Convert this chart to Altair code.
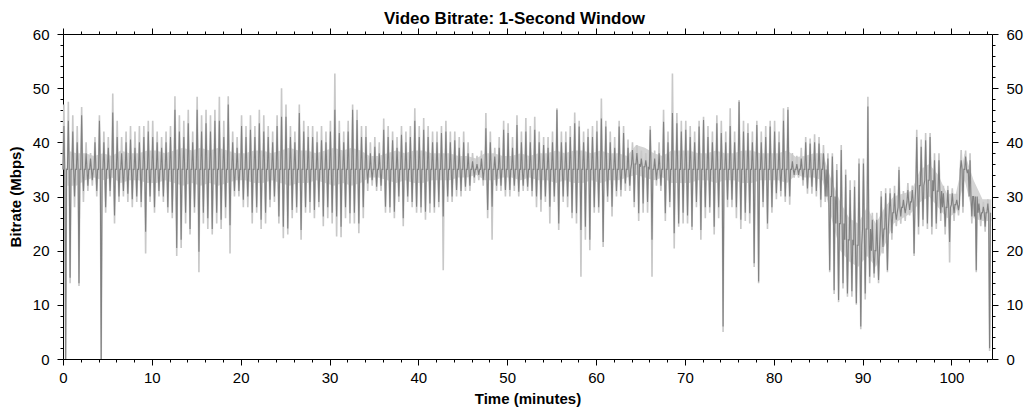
import altair as alt
import pandas as pd

chart_title = "Video Bitrate: 1-Second Window"
x_title = "Time (minutes)"
y_title = "Bitrate (Mbps)"

bin_minutes = 0.5
x_max = 104.57
x_ticks = list(range(0, 105, 2))
y_ticks = list(range(0, 61, 2))

# per half-minute window: local peak / trough of the 1-second bitrate (dark trace)
dark_high = [
    43, 44, 42, 40, 45, 38, 37, 40, 44, 40,
    39, 45.5, 41, 38, 40, 40.5, 39, 40, 41, 42,
    41, 40, 39, 40, 41, 46, 42, 41, 43.5, 40,
    46, 42, 43.5, 42, 44, 44, 41, 47, 40, 39,
    43, 41, 42.3, 41, 43.5, 42, 41, 40, 43, 44.7,
    44.7, 41, 40, 45.4, 42, 41, 41, 40, 40.4, 40,
    42, 46, 41.7, 40, 42, 46, 44.1, 41, 41, 38,
    39.2, 38, 42.3, 41, 40.4, 39, 41.4, 40, 41, 44,
    41, 42.3, 41, 40, 40, 41.7, 42, 40, 40.4, 39,
    40, 38, 36.5, 36, 37, 42.6, 40, 37.4, 39, 42.3,
    41.7, 39, 43.2, 40, 42, 40, 42.3, 40, 39.5, 39,
    40, 46, 40, 40, 41, 43.5, 42.9, 40, 41, 41,
    42, 44.4, 42.9, 40, 39, 42.9, 41.7, 39, 38.6, 38,
    37, 36.7, 42.3, 37, 38, 43.8, 40, 45.4, 43.5, 42,
    42.3, 41, 40, 42.9, 44.1, 41, 40, 43.5, 41.7, 40,
    43, 40, 47.5, 42, 41.7, 40, 43.2, 40, 41, 42.9,
    42, 40, 44, 46, 36.5, 36, 37, 40, 39.8, 40,
    39.8, 38, 37, 37.4, 34.9, 38.6, 34, 31.2, 31.8, 36.1,
    36.1, 46.6, 25.7, 25.7, 30, 30.6, 30.6, 30.6, 34.9, 29.4,
    31.2, 31.2, 41, 39.2, 40.4, 41, 36.7, 36.7, 30.6, 31.2,
    30.6, 29.4, 36.7, 37.4, 36.7, 26.3, 28.7, 28.1, 28.7,
]
dark_low = [
    0, 15, 30, 14, 31, 32, 33, 31, 0, 28,
    31, 26.5, 30, 31, 30.5, 29.5, 30, 29, 23.5, 30,
    28, 31, 30, 28, 27, 20.5, 22, 27, 24, 28,
    19.8, 27, 26, 24, 27, 25.7, 28, 24.7, 31, 31,
    29.4, 30, 27, 28, 25.7, 27, 29.4, 30, 26.3, 24.4,
    24.1, 27.5, 28, 23.8, 28, 29, 27.5, 29, 26.3, 28,
    27, 26.3, 24.4, 28, 26.9, 27, 25, 28, 32.4, 33,
    31.8, 32, 28.1, 28, 27.2, 30, 26, 30, 29, 28.1,
    28, 27.2, 28.7, 28, 29, 26.3, 30, 30, 31.2, 31,
    31.8, 32, 33.5, 34, 33, 27.5, 28.1, 32, 32, 31.2,
    31.2, 32, 30.9, 32, 31.8, 31, 30, 29.4, 30, 28.1,
    30, 25, 30, 30, 27, 26.9, 23.8, 24.4, 22, 28,
    28, 21.6, 30, 28.1, 31, 31.2, 32.4, 32, 29, 26.9,
    28.7, 29, 22, 33, 32, 26.9, 29, 23.2, 25, 27,
    26.5, 24.4, 29, 23.8, 28, 28, 24.4, 28, 6, 29.4,
    29.4, 28, 25.7, 27, 26.9, 17.7, 14.3, 29, 25, 28,
    30.6, 31, 30, 30, 34, 34, 33, 31.5, 31.8, 31,
    29.4, 30, 16.4, 12.7, 10.9, 14, 12.1, 12.5, 10.3, 6,
    12.1, 15.2, 15.8, 14.6, 20.7, 16.4, 23.2, 25.7, 26.3, 26.9,
    27.5, 19.5, 24.4, 25.7, 25, 24.4, 25, 26.9, 24.4, 21.6,
    26.9, 27.5, 28.1, 34.3, 26.3, 16.4, 25.7, 24.4, 2,
]
# light trace (drawn behind): slightly wider excursions
light_high = [
    47, 47.5, 45, 43, 46.5, 40, 38, 41, 45, 42,
    41, 49, 44, 41, 42, 43, 42, 43, 43, 44,
    44, 42, 41, 42, 43, 48.5, 45, 44, 46, 42,
    48.4, 45, 46, 45, 46, 48.4, 44, 48.5, 42, 41,
    45, 43, 45, 43, 46, 45, 43, 42, 45, 50,
    47, 43, 42, 47, 44, 43, 43, 42, 43, 42,
    44, 52.7, 44, 42, 44, 47, 46, 43, 43, 40,
    41, 40, 44.4, 43, 42, 41, 43, 42, 43, 46.3,
    43, 44.5, 43, 42, 42, 43, 44, 42, 42, 41,
    42, 40, 38, 37.5, 38.5, 45.4, 42, 39, 41, 44,
    43.5, 41, 45, 42, 44.5, 43, 44.7, 42, 41, 41,
    42, 46.3, 42, 42, 43, 45.5, 44, 42, 42.5, 43,
    44, 48.1, 44, 42, 41, 44, 43, 40.5, 40, 39.5,
    38.5, 38, 43, 38.5, 40, 46, 42, 52.7, 45.4, 44,
    44, 43, 42, 44, 44.7, 43, 42, 45, 44, 42,
    46.3, 42, 47.8, 44, 43.5, 42, 44, 42, 43, 44,
    44, 42, 46.3, 46.5, 38, 37.5, 39, 41, 40.7, 41.5,
    41, 39.5, 38, 38, 36, 39.5, 35, 33, 33, 37,
    37, 48.4, 27, 27, 31, 31.5, 31.5, 32, 35.5, 31,
    32.5, 32, 42.3, 40.5, 41.7, 41.7, 38, 38, 32, 32,
    31.5, 30.5, 38.6, 38.5, 38, 27.5, 29.5, 29, 29.5,
]
light_low = [
    0, 14, 28, 13.5, 29, 31, 32, 30, 0, 27,
    30, 25, 29, 30, 29, 28, 29, 28, 19.5, 29,
    27, 30, 29, 27, 26, 19, 20.5, 25, 23, 27,
    16, 25, 24, 23, 25, 24, 26, 19.5, 30, 30,
    28, 28, 25, 27, 24, 25, 28, 29, 25, 22.3,
    23, 26, 27, 22, 27, 27, 26, 28, 24.5, 26,
    25, 22.6, 22.5, 26, 25, 25, 23.2, 26, 31, 32,
    31, 31, 27, 27, 26, 29, 24.5, 29, 28, 27,
    27, 25.7, 27, 27, 28, 16.4, 29, 29, 30, 30,
    31, 31, 32.5, 33, 32, 26, 22, 31, 31, 30,
    30, 31, 30, 31, 31, 30, 28, 27.2, 29, 25,
    29, 23.8, 29, 28, 26, 25, 15.2, 22, 20.1, 27,
    27, 20.7, 29, 26.3, 30, 30, 31, 31, 28, 25.5,
    27, 27, 15.2, 32, 31, 25.5, 28, 20.4, 24.4, 25,
    25, 23.8, 28, 22, 26, 27, 23, 26, 5, 28,
    28, 26, 24, 25.5, 25, 17, 14, 28, 24, 27,
    29.5, 30, 29, 28.5, 33.5, 33.5, 32, 30.5, 30.5, 30,
    28, 29, 16, 12, 10.5, 13, 11.5, 11.5, 10, 5.5,
    11, 14, 15, 14, 19.5, 16, 22, 24.5, 25, 25.5,
    26.5, 19, 23, 24.5, 24, 23, 24, 25.5, 23, 17.8,
    25.5, 26.5, 27, 33, 25, 16, 24.5, 23.5, 1.5,
]
# per-minute typical level the trace hovers around
level = [
    35, 35, 35, 35, 35, 35, 35, 35, 35, 35,
    35, 35, 35, 35, 35, 35, 35, 35, 35, 35,
    35, 35, 35, 35, 35, 35, 35, 35, 35, 35,
    35, 35, 35, 35, 35, 35, 35, 35, 35, 35,
    35, 35, 35, 35, 35, 35, 35, 35, 35, 35,
    35, 35, 35, 35, 35, 35, 35, 35, 35, 35,
    35, 35, 35, 35, 36, 35.5, 35, 35, 35, 35,
    35, 35, 35, 35, 35, 35, 35, 35, 35, 35,
    35, 35, 35, 35, 35, 35, 30, 25, 22, 21,
    24, 20, 24, 27, 28, 29, 32, 33, 31, 28,
    28.5, 35, 30, 27, 27,
]
# per-minute light halo band around that level
band_low = [
    32, 32, 33, 33.5, 33, 33.5, 32.5, 33, 33, 32.5,
    32.5, 33, 32.5, 32, 32.5, 32, 32.5, 32, 32.5, 33,
    33, 32.5, 32.5, 33, 32.5, 32, 32.5, 32.5, 33, 32.5,
    32, 32.5, 32, 32.5, 33.5, 33.5, 33, 32.5, 33, 32.5,
    32.5, 33, 33, 33, 33.5, 33.5, 34, 33, 33, 33.5,
    33.5, 33, 33.5, 33, 33, 32.5, 33, 32.5, 32.5, 33,
    32.5, 33, 33, 33.5, 34, 33.5, 33, 33.5, 32.5, 32.5,
    32.5, 33, 33, 32.5, 33, 33, 32.5, 32.5, 33, 33,
    33, 32.5, 34, 33.5, 33.5, 33, 26, 20, 18, 17,
    19, 17, 21, 25, 26, 27, 29, 30, 28, 26,
    27, 33, 26, 25.5, 25.5,
]
band_high = [
    38.5, 38, 38, 37.5, 38, 37.5, 38.5, 38, 38, 38.5,
    38.5, 38, 38.5, 39, 38.5, 39, 38.5, 39, 38.5, 38,
    38, 38.5, 38.5, 38, 38.5, 39, 38.5, 38.5, 38, 38.5,
    39, 38.5, 39, 38.5, 37.5, 37.5, 38, 38.5, 38, 38.5,
    38.5, 38, 38, 38, 37.5, 37.5, 37, 38, 38, 37.5,
    37.5, 38, 37.5, 38, 38, 38.5, 38, 38.5, 38.5, 38,
    38.5, 38, 38, 37.5, 39.5, 39, 38, 37.5, 38.5, 38.5,
    38.5, 38, 38, 38.5, 38, 38, 38.5, 38.5, 38, 38,
    38, 38.5, 37.3, 37.5, 38, 38, 33, 29, 26, 25,
    28, 25, 28, 30, 30.5, 31, 35, 36, 34, 30.5,
    30.5, 38, 33, 29.5, 29.5,
]


def trace(highs, lows):
    rows = []
    for i, (h, l) in enumerate(zip(highs, lows)):
        t0 = i * bin_minutes
        m = level[i // 2]
        rows += [
            {"t": t0, "v": m},
            {"t": t0 + 0.1, "v": h},
            {"t": t0 + 0.2, "v": m},
            {"t": t0 + 0.3, "v": l},
            {"t": t0 + 0.4, "v": m},
        ]
    return pd.DataFrame(rows)


df_dark = trace(dark_high, dark_low)
df_light = trace(light_high, light_low)
df_band = pd.DataFrame({
    "t": [min(k + 0.5, x_max) for k in range(len(band_low))],
    "lo": band_low,
    "hi": band_high,
})

FONT = "Liberation Sans"
major = "datum.value % 10 === 0"


def make_axis(orient, values, show_labels, title_text=None, title_pad=0, label_pad=8):
    kw = dict(
        orient=orient,
        values=values,
        grid=False,
        labels=show_labels,
        labelExpr=f"{major} ? datum.label : ''",
        labelOverlap=False,
        labelFlush=False,
        labelFont=FONT,
        labelFontSize=15,
        labelColor="black",
        labelPadding=label_pad,
        tickColor="black",
        tickWidth=1,
        tickSize={"condition": {"test": major, "value": 6}, "value": 3},
        domainColor="black",
        domainWidth=1,
    )
    if title_text is not None:
        kw.update(title=title_text, titleFont=FONT, titleFontSize=15,
                  titleFontWeight="bold", titleColor="black", titlePadding=title_pad)
    else:
        kw.update(title=None)
    return alt.Axis(**kw)


xscale = alt.Scale(domain=[0, x_max], nice=False, zero=False)
yscale = alt.Scale(domain=[0, 60], nice=False, zero=False)
x_bottom = make_axis("bottom", x_ticks, True, x_title, 6, 5)
y_left = make_axis("left", y_ticks, True, y_title, 9)

band = alt.Chart(df_band).mark_area(color="#d4d4d4", opacity=1).encode(
    x=alt.X("t:Q", scale=xscale, axis=x_bottom),
    y=alt.Y("lo:Q", scale=yscale, axis=y_left),
    y2="hi:Q",
)
light = alt.Chart(df_light).mark_line(color="#c8c8c8", strokeWidth=1.6).encode(
    x=alt.X("t:Q", scale=xscale, axis=x_bottom),
    y=alt.Y("v:Q", scale=yscale, axis=y_left),
)
dark = alt.Chart(df_dark).mark_line(color="#808080", strokeWidth=1.1).encode(
    x=alt.X("t:Q", scale=xscale, axis=make_axis("top", x_ticks, False)),
    y=alt.Y("v:Q", scale=yscale, axis=make_axis("right", y_ticks, True)),
)

chart = (
    alt.layer(alt.layer(band, light), dark)
    .resolve_scale(x="independent", y="independent")
    .properties(
        width=929,
        height=325,
        title=alt.TitleParams(text=chart_title, font=FONT, fontSize=17,
                              fontWeight="bold", color="black", dx=-13, offset=-0.5),
        autosize=alt.AutoSizeParams(type="none"),
        padding={"left": 55, "top": 26, "right": 35, "bottom": 51},
    )
    .configure_view(stroke="transparent")
)

chart.save("out.html", embed_options={"renderer": "svg", "actions": False})
